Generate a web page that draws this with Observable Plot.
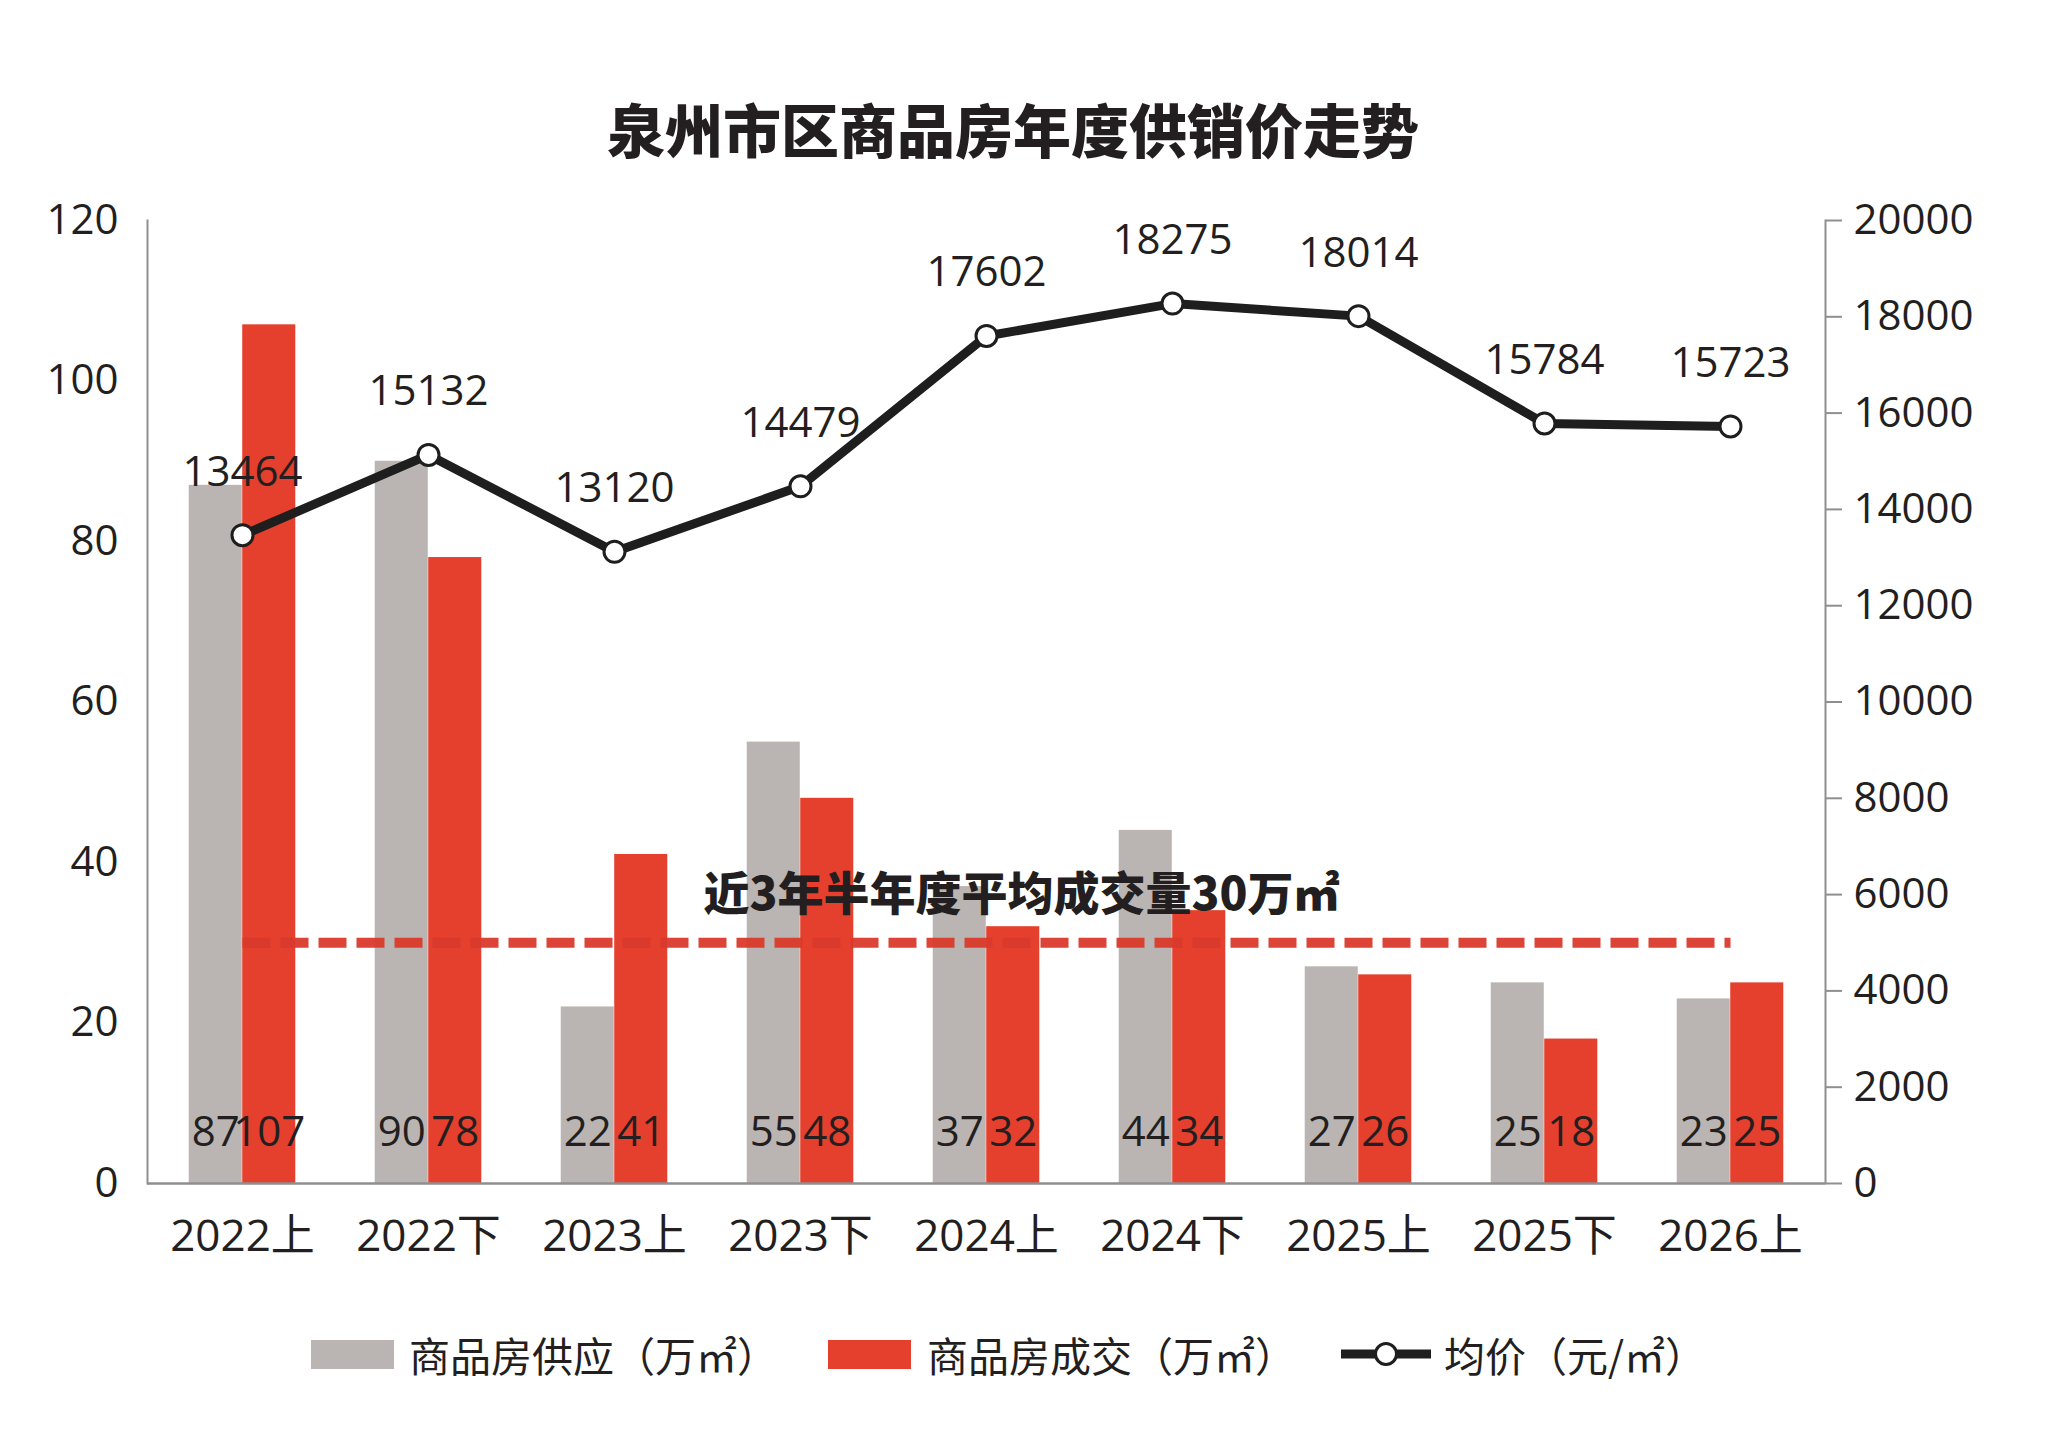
<!DOCTYPE html>
<html>
<head>
<meta charset="utf-8">
<script src="https://cdn.jsdelivr.net/npm/d3@7"></script>
<script src="https://cdn.jsdelivr.net/npm/@observablehq/plot@0.6"></script>
<style>
  html, body { margin: 0; padding: 0; background: #fff; }
  #wrap { position: relative; width: 2048px; height: 1447px; overflow: hidden; }
  #title { position: absolute; left: 0; top: 96px; width: 2026px; text-align: center;
    font-family: "Noto Sans CJK SC", sans-serif; font-weight: 900; font-size: 58px; line-height: 64px; color: #231f20; }
  #chart { position: absolute; left: 0; top: 0; }
  .lg { position: absolute; font-family: "Noto Sans CJK SC", sans-serif; font-size: 41px; line-height: 50px; color: #231f20; }
  .sw { position: absolute; }
</style>
</head>
<body>
<div id="wrap">
  <div id="chart"></div>
  <div id="title">泉州市区商品房年度供销价走势</div>
  <div id="legend"></div>
</div>
<script>
// ---- data ----
const categories = ["2022上","2022下","2023上","2023下","2024上","2024下","2025上","2025下","2026上"];
const supply = [87, 90, 22, 55, 37, 44, 27, 25, 23];        // 商品房供应（万㎡）
const deals  = [107, 78, 41, 48, 32, 34, 26, 18, 25];       // 商品房成交（万㎡）
const price  = [13464, 15132, 13120, 14479, 17602, 18275, 18014, 15784, 15723]; // 均价（元/㎡）
const leftTicks  = [0, 20, 40, 60, 80, 100, 120];
const rightTicks = [0, 2000, 4000, 6000, 8000, 10000, 12000, 14000, 16000, 18000, 20000];
const avgDeal = 30;
const avgLabel = "近3年半年度平均成交量30万㎡";
const seriesNames = ["商品房供应（万㎡）", "商品房成交（万㎡）", "均价（元/㎡）"];
const volMax = 120, priceMax = 20000;

// ---- styles ----
const GRAY = "#bab5b2", RED = "#e4402d", DASH = "#d93a2b", INK = "#231f20", AXIS = "#8f8f8f";
const W = 2048, H = 1300, mL = 147, mR = 223, mT = 220, mB = 117;
const step = (W - mL - mR) / categories.length;
const half = step / 2, barW = 53.5;
const numFont = "'Open Sans','Noto Sans CJK SC',sans-serif";

const rows = categories.map((c, i) => ({cat: c, supply: supply[i], deals: deals[i], price: price[i], p: price[i] * volMax / priceMax}));
const avgRows = categories.map(c => ({cat: c, v: avgDeal}));

const chart = Plot.plot({
  width: W, height: H,
  marginTop: mT, marginBottom: mB, marginLeft: mL, marginRight: mR,
  x: {type: "band", domain: categories, padding: 0, label: null},
  y: {domain: [0, volMax], label: null},
  style: {fontFamily: numFont, fontSize: "42px", color: INK, background: "transparent"},
  marks: [
    Plot.barY(rows, {x: "cat", y: "supply", fill: GRAY, insetLeft: half - barW, insetRight: half}),
    Plot.barY(rows, {x: "cat", y: "deals", fill: RED, insetLeft: half, insetRight: half - barW}),
    Plot.frame({anchor: "left", stroke: AXIS, strokeWidth: 2}),
    Plot.frame({anchor: "right", stroke: AXIS, strokeWidth: 2}),
    Plot.ruleY([0], {stroke: AXIS, strokeWidth: 2.5}),
    Plot.axisY({anchor: "left", ticks: leftTicks, tickSize: 0, tickPadding: 29, fontSize: 42, fill: INK, label: null}),
    Plot.axisY({anchor: "right", ticks: rightTicks.map(v => v * volMax / priceMax),
      tickFormat: d => String(Math.round(d * priceMax / volMax)),
      tickSize: 16, tickPadding: 12, stroke: AXIS, strokeWidth: 2, fontSize: 42, fill: INK, label: null}),
    Plot.axisX({tickSize: 0, tickPadding: 36, fontSize: 44, fill: INK, label: null}),
    Plot.line(avgRows, {x: "cat", y: "v", stroke: DASH, strokeWidth: 10, strokeDasharray: "28 10",
      strokeLinecap: "butt", strokeOpacity: 0.95}),
    Plot.text(rows, {x: "cat", y: 0, text: "supply", dx: -barW / 2, dy: -51, fontSize: 42, fill: INK}),
    Plot.text(rows, {x: "cat", y: 0, text: "deals", dx: barW / 2, dy: -51, fontSize: 42, fill: INK}),
    Plot.line(rows, {x: "cat", y: "p", stroke: "#1e1e1e", strokeWidth: 9}),
    Plot.dot(rows, {x: "cat", y: "p", r: 10.5, fill: "white", stroke: "#1e1e1e", strokeWidth: 3}),
    Plot.text(rows, {x: "cat", y: "p", text: d => String(d.price), dy: -63, fontSize: 42, fill: INK}),
    Plot.text([avgLabel], {x: () => categories[4], y: () => avgDeal, text: d => d, dx: 35, dy: -47,
      fontSize: 46, fontWeight: 900, fontFamily: "'Noto Sans CJK SC',sans-serif", fill: INK})
  ]
});
document.getElementById("chart").appendChild(chart);

// ---- legend ----
const lg = document.getElementById("legend");
const items = [
  {type: "rect", color: GRAY, sx: 311, tx: 409},
  {type: "rect", color: RED, sx: 828, tx: 927},
  {type: "line", color: "#1e1e1e", sx: 1341, tx: 1444}
];
items.forEach((it, i) => {
  const sw = document.createElementNS("http://www.w3.org/2000/svg", "svg");
  sw.setAttribute("class", "sw");
  sw.setAttribute("width", 92); sw.setAttribute("height", 40);
  sw.style.left = it.sx + "px"; sw.style.top = "1336px";
  if (it.type === "rect") {
    sw.innerHTML = `<rect x="0" y="4" width="83" height="29" fill="${it.color}"/>`;
  } else {
    sw.innerHTML = `<line x1="0" y1="18" x2="90" y2="18" stroke="${it.color}" stroke-width="9"/>` +
      `<circle cx="45" cy="18" r="10.5" fill="white" stroke="${it.color}" stroke-width="3"/>`;
  }
  lg.appendChild(sw);
  const t = document.createElement("div");
  t.className = "lg";
  t.textContent = seriesNames[i];
  t.style.left = it.tx + "px"; t.style.top = "1329px";
  lg.appendChild(t);
});
</script>
</body>
</html>
